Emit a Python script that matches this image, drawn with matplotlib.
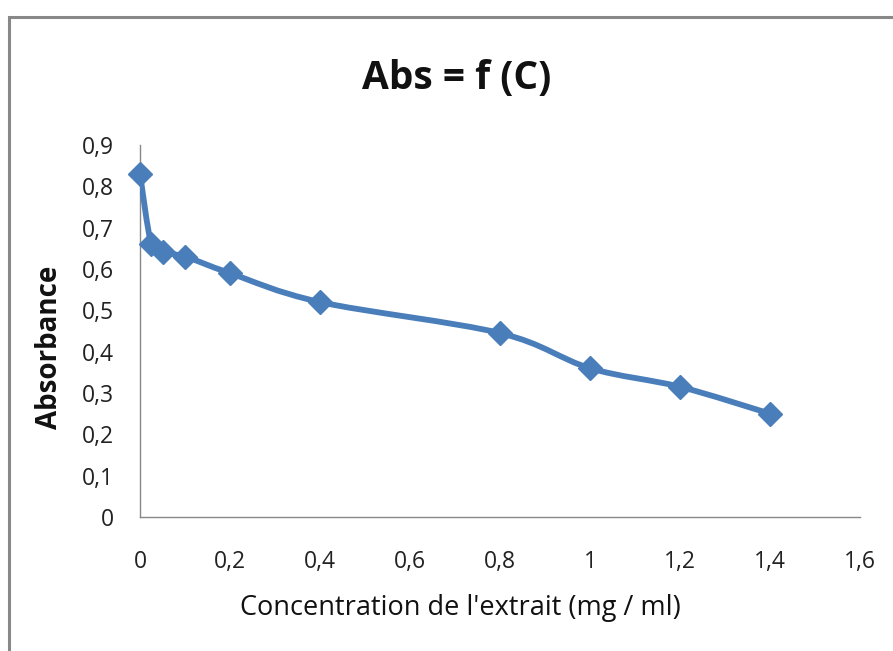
import matplotlib
matplotlib.use("Agg")
import matplotlib.pyplot as plt
from matplotlib.path import Path
from matplotlib.patches import PathPatch, Rectangle
from matplotlib import font_manager
import numpy as np

concentration = [0, 0.025, 0.05, 0.1, 0.2, 0.4, 0.8, 1.0, 1.2, 1.4]
absorbance = [0.83, 0.66, 0.64, 0.63, 0.59, 0.52, 0.445, 0.36, 0.315, 0.25]
x_ticks = [0, 0.2, 0.4, 0.6, 0.8, 1.0, 1.2, 1.4, 1.6]
x_labels = ["0", "0,2", "0,4", "0,6", "0,8", "1", "1,2", "1,4", "1,6"]
y_ticks = [0, 0.1, 0.2, 0.3, 0.4, 0.5, 0.6, 0.7, 0.8, 0.9]
y_labels = ["0", "0,1", "0,2", "0,3", "0,4", "0,5", "0,6", "0,7", "0,8", "0,9"]

names = {f.name for f in font_manager.fontManager.ttflist}
fam = "Liberation Sans Narrow" if "Liberation Sans Narrow" in names else "Open Sans"
plt.rcParams['font.family'] = [fam, 'DejaVu Sans']

color = "#4a7ebb"
W, H = 893, 651
fig = plt.figure(figsize=(W / 100, H / 100), dpi=100)
# outer chart border
fig.patches.append(Rectangle((9 / W, -0.1), 1.2, 1 - 17 / H + 0.1, transform=fig.transFigure,
                             fill=False, edgecolor="#888888", linewidth=2.2))

ax = fig.add_axes([140 / W, 1 - 517 / H, 720 / W, (517 - 145) / H])
ax.set_xlim(0, 1.6)
ax.set_ylim(0, 0.9)
ax.set_xticks(x_ticks)
ax.set_xticklabels(x_labels)
ax.set_yticks(y_ticks)
ax.set_yticklabels(y_labels)
ax.tick_params(length=0, labelsize=16.5, colors="#222222")
ax.tick_params(axis="x", pad=24)
ax.tick_params(axis="y", pad=19)
for s in ["top", "right"]:
    ax.spines[s].set_visible(False)
for s in ["left", "bottom"]:
    ax.spines[s].set_color("#888888")
    ax.spines[s].set_linewidth(1.0)

# smoothed (Catmull-Rom) line, as in the spreadsheet chart
x = np.array(concentration, float)
y = np.array(absorbance, float)
n = len(x)
verts = [(x[0], y[0])]
codes = [Path.MOVETO]
for i in range(n - 1):
    p0 = (x[i - 1], y[i - 1]) if i > 0 else (x[i], y[i])
    p1 = (x[i], y[i])
    p2 = (x[i + 1], y[i + 1])
    p3 = (x[i + 2], y[i + 2]) if i + 2 < n else (x[i + 1], y[i + 1])
    t = 1 / 6
    c1 = (p1[0] + (p2[0] - p0[0]) * t, p1[1] + (p2[1] - p0[1]) * t)
    c2 = (p2[0] - (p3[0] - p1[0]) * t, p2[1] - (p3[1] - p1[1]) * t)
    verts += [c1, c2, p2]
    codes += [Path.CURVE4] * 3
ax.add_patch(PathPatch(Path(verts, codes), fill=False, edgecolor=color, linewidth=4.2,
                       capstyle="round", joinstyle="round", zorder=3))
ax.plot(concentration, absorbance, linestyle="none", marker="D", markersize=12.5,
        color=color, zorder=4, clip_on=False)

ax.set_xlabel("Concentration de l'extrait (mg / ml)", fontsize=19.5, color="#111111")
ax.xaxis.set_label_coords((460 - 140) / 720, -(594 - 517) / (517 - 145))
ax.set_ylabel("Absorbance", fontsize=20, fontweight="bold", color="#111111")
ax.yaxis.set_label_coords(-(140 - 64) / 720, (517 - 347) / (517 - 145))
fig.text(457 / W, 1 - 78 / H, "Abs = f (C)", ha="center", va="center", fontsize=28,
         fontweight="bold", color="#111111")

fig.savefig("out.png", dpi=100)
